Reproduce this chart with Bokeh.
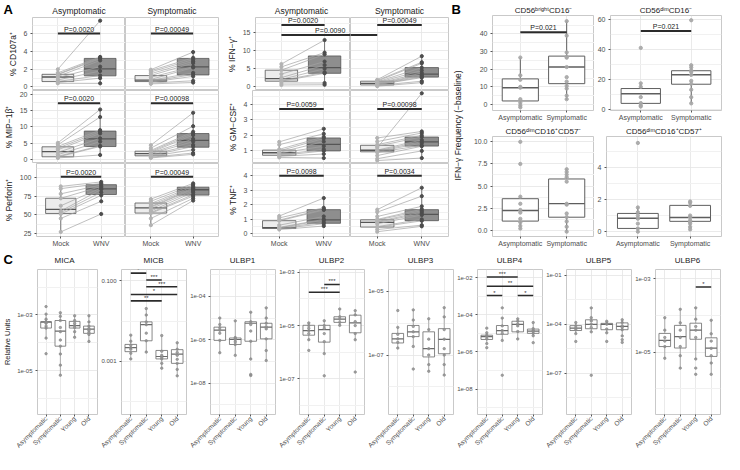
import math
from bokeh.plotting import figure
from bokeh.layouts import row, column
from bokeh.models import Range1d, FixedTicker, Label
from bokeh.core.properties import value
from bokeh.embed import file_html
from bokeh.resources import INLINE

FONT = "Liberation Sans"

# ================= Panel A : paired Mock -> WNV =================
A_CONDITIONS = ["Mock", "WNV"]
A_FACETS = ["Asymptomatic", "Symptomatic"]
A_YLABELS = ["% CD107a⁺", "% MIP−1β⁺", "% Perforin⁺", "% IFN−γ⁺", "% GM−CSF⁺", "% TNF⁺"]

# box statistics [lower whisker, Q1, median, Q3, upper whisker] for Mock, WNV
cd107a_box_asym = [[0.41, 0.61, 1.13, 1.43, 1.98], [0.41, 1.26, 2.05, 3.23, 3.40]]
cd107a_box_sym = [[0.34, 0.61, 0.78, 1.29, 1.98], [0.51, 1.36, 2.28, 3.23, 3.99]]
cd107a_mock_asym = [2.0, 1.6, 1.45, 1.4, 1.2, 1.05, 0.8, 0.62, 0.5, 0.41]
cd107a_wnv_asym = [7.5, 3.4, 3.3, 3.2, 3.0, 2.3, 1.8, 1.3, 1.0, 0.41]
cd107a_mock_sym = [1.95, 1.85, 1.7, 1.5, 1.3, 1.1, 0.85, 0.75, 0.65, 0.55, 0.45, 0.35]
cd107a_wnv_sym = [3.95, 3.3, 3.1, 2.9, 2.7, 2.3, 2.2, 1.6, 1.4, 1.2, 0.7, 0.5]
cd107a_p = ["P=0.0020", "P=0.00049"]
cd107a_p_y = 6.04

mip_box_asym = [[0.5, 0.85, 2.4, 3.9, 5.1], [1.4, 3.98, 6.34, 8.7, 15.3]]
mip_box_sym = [[0.5, 1.14, 1.79, 2.56, 4.43], [1.6, 3.78, 5.85, 7.95, 14.3]]
mip_mock_asym = [5.1, 4.5, 4.0, 3.5, 3.0, 2.2, 1.5, 1.0, 0.8, 0.5]
mip_wnv_asym = [15.3, 13.0, 9.0, 8.5, 8.0, 6.5, 5.5, 4.2, 4.0, 1.4]
mip_mock_sym = [4.4, 3.5, 2.8, 2.5, 2.2, 2.0, 1.8, 1.5, 1.2, 1.0, 0.7, 0.5]
mip_wnv_sym = [14.3, 10.2, 8.5, 8.0, 7.5, 6.3, 5.5, 4.5, 4.0, 3.0, 2.0, 1.6]
mip_p = ["P=0.0020", "P=0.00098"]
mip_p_y = 17.2

perf_box_asym = [[26.8, 51.7, 57.3, 72.1, 87.8], [67.9, 77.1, 84.8, 90.3, 94.5]]
perf_box_sym = [[36.1, 52.2, 59.3, 65.7, 71.3], [68.7, 76.3, 83.5, 86.9, 92.0]]
perf_mock_asym = [88, 85, 78, 72, 62, 55, 53, 51, 45, 27]
perf_wnv_asym = [94, 92, 90, 88, 86, 84, 80, 76, 68, 51]
perf_mock_sym = [71, 68, 65, 63, 61, 60, 58, 55, 53, 52, 45, 36]
perf_wnv_sym = [92, 90, 88, 86, 85, 84, 82, 80, 77, 75, 72, 69]
perf_p = ["P=0.0020", "P=0.00049"]
perf_p_y = 100.9

ifn_box_asym = [[0.45, 1.5, 2.2, 4.58, 6.35], [0.45, 3.7, 5.3, 8.55, 12.96]]
ifn_box_sym = [[0.0, 0.45, 0.87, 1.5, 1.93], [1.06, 2.65, 3.5, 5.3, 8.55]]
ifn_mock_asym = [6.3, 5.5, 4.6, 3.5, 2.5, 2.0, 1.7, 1.5, 1.0, 0.45]
ifn_wnv_asym = [13.0, 9.5, 9.0, 7.0, 6.0, 5.0, 4.0, 3.7, 1.0, 0.5]
ifn_mock_sym = [1.9, 1.7, 1.5, 1.3, 1.1, 0.9, 0.8, 0.7, 0.6, 0.5, 0.3, 0.1]
ifn_wnv_sym = [8.5, 6.8, 6.5, 5.3, 4.5, 3.8, 3.3, 3.0, 2.7, 2.5, 1.5, 1.1]
ifn_p = ["P=0.0020", "P=0.00049"]
ifn_p_y = 17.2
ifn_cross_p = "P=0.0090"
ifn_cross_p_y = 14.4

gm_box_asym = [[0.58, 0.72, 0.88, 1.05, 1.58], [0.54, 1.0, 1.42, 1.83, 2.42]]
gm_box_sym = [[0.38, 0.94, 1.04, 1.36, 1.83], [0.54, 1.31, 1.58, 1.89, 2.25]]
gm_mock_asym = [1.58, 1.4, 1.1, 1.0, 0.9, 0.85, 0.75, 0.7, 0.65, 0.58]
gm_wnv_asym = [2.42, 2.1, 1.9, 1.8, 1.6, 1.3, 1.1, 1.0, 0.8, 0.54]
gm_mock_sym = [1.2, 1.83, 1.6, 1.4, 1.3, 1.05, 1.0, 0.95, 0.9, 0.7, 0.5, 0.38]
gm_wnv_sym = [4.7, 2.25, 2.15, 2.0, 1.9, 1.7, 1.6, 1.5, 1.35, 1.3, 1.0, 0.54]
gm_p = ["P=0.0059", "P=0.00098"]
gm_p_y = 3.69

tnf_box_asym = [[0.3, 0.37, 0.43, 0.91, 1.23], [0.54, 0.73, 0.97, 1.67, 2.47]]
tnf_box_sym = [[0.15, 0.47, 0.8, 0.97, 1.67], [0.52, 0.91, 1.34, 1.67, 3.18]]
tnf_mock_asym = [1.23, 1.1, 0.95, 0.9, 0.6, 0.45, 0.42, 0.4, 0.35, 0.3]
tnf_wnv_asym = [2.47, 1.8, 1.7, 1.65, 1.2, 1.0, 0.95, 0.8, 0.7, 0.54]
tnf_mock_sym = [1.67, 1.5, 1.2, 1.0, 0.95, 0.85, 0.8, 0.7, 0.5, 0.45, 0.3, 0.15]
tnf_wnv_sym = [3.18, 2.6, 1.9, 1.7, 1.6, 1.5, 1.4, 1.3, 1.0, 0.9, 0.6, 0.52]
tnf_p = ["P=0.0098", "P=0.0034"]
tnf_p_y = 4.0

# ================= Panel B : IFN-gamma frequency (-baseline) =================
B_GROUPS = ["Asymptomatic", "Symptomatic"]
B_TITLES = ["CD56ᵇʳⁱᵍʰᵗCD16⁻", "CD56ᵈⁱᵐCD16⁻", "CD56ᵈⁱᵐCD16⁺CD57⁻", "CD56ᵈⁱᵐCD16⁺CD57⁺"]
B_YLABEL = "IFN−γ Frequency (−baseline)"
b1_box = [[-1.6, 2.0, 9.5, 14.5, 26.6], [2.5, 11.8, 21.2, 27.4, 47.2]]
b1_pts = [[26.6, 16.5, 14.0, 10.0, 9.5, 3.0, 1.0, -0.5, -1.6],
          [47.2, 39.0, 29.5, 27.0, 26.5, 21.2, 15.5, 13.0, 10.5, 9.0, 5.0, 3.0]]
b1_p = "P=0.021"
b1_p_y = 40.9
b2_box = [[1.7, 3.8, 10.3, 13.8, 17.3], [3.8, 16.7, 23.1, 25.8, 29.5]]
b2_pts = [[41.2, 17.3, 15.0, 8.0, 4.0, 2.5, 1.7],
          [59.8, 29.5, 28.0, 26.0, 25.0, 23.0, 19.0, 17.0, 13.0, 8.0, 3.8]]
b2_p = "P=0.021"
b2_p_y = 52.5
b3_box = [[0.18, 1.04, 2.23, 3.57, 3.82], [-0.15, 1.48, 3.01, 5.8, 6.98]]
b3_pts = [[10.0, 7.5, 3.8, 3.0, 2.3, 2.0, 1.3, 0.9, 0.5, 0.2],
          [6.9, 6.6, 6.3, 6.0, 5.5, 3.0, 2.9, 1.9, 1.5, 1.0, 0.4, -0.15]]
b4_box = [[0.0, 0.2, 0.83, 1.13, 1.53], [0.14, 0.64, 0.88, 1.63, 1.87]]
b4_pts = [[5.5, 1.5, 1.2, 1.0, 0.8, 0.5, 0.2, 0.0],
          [1.87, 1.8, 1.6, 1.0, 0.9, 0.7, 0.6, 0.5, 0.3, 0.14]]

# ================= Panel C : relative units (log10 of value) =================
C_GROUPS = ["Asymptomatic", "Symptomatic", "Young", "Old"]
C_GENES = ["MICA", "MICB", "ULBP1", "ULBP2", "ULBP3", "ULBP4", "ULBP5", "ULBP6"]
C_YLABEL = "Relative Units"
mica_box = [[-3.83, -3.47, -3.26, -3.24, -2.97], [-5.16, -4.12, -3.58, -3.2, -2.92],
            [-3.8, -3.47, -3.38, -3.23, -3.03], [-3.95, -3.66, -3.51, -3.4, -3.03]]
mica_pts = [[-2.7, -2.97, -3.15, -3.24, -3.26, -3.3, -3.4, -3.47, -3.83, -4.39],
            [-2.92, -3.05, -3.2, -3.45, -3.6, -3.9, -4.12, -4.4, -4.8, -5.16],
            [-3.03, -3.2, -3.3, -3.38, -3.45, -3.6, -3.8],
            [-3.03, -3.25, -3.4, -3.48, -3.55, -3.62, -3.7, -3.95]]
mica_sig = []
micb_box = [[-2.94, -2.76, -2.66, -2.58, -2.35], [-2.77, -2.49, -2.09, -2.02, -1.69],
            [-3.17, -2.94, -2.88, -2.73, -2.36], [-3.36, -3.05, -2.82, -2.71, -2.54]]
micb_pts = [[-2.35, -2.5, -2.6, -2.66, -2.7, -2.8, -2.94],
            [-1.69, -1.85, -2.02, -2.09, -2.3, -2.49, -2.77],
            [-2.36, -2.75, -2.85, -2.9, -2.94, -3.05, -3.17],
            [-2.54, -2.7, -2.78, -2.85, -2.95, -3.05, -3.2, -3.36]]
micb_sig = [(1, 2, "*", -0.81), (2, 3, "***", -0.98), (2, 4, "***", -1.15),
            (1, 4, "*", -1.34), (1, 3, "**", -1.5)]
ulbp1_box = [[-6.6, -6.03, -5.56, -5.42, -5.0], [-6.72, -6.22, -5.99, -5.92, -5.13],
             [-6.89, -6.07, -5.24, -5.17, -4.73], [-6.96, -5.96, -5.42, -5.24, -4.53]]
ulbp1_pts = [[-5.0, -5.3, -5.45, -5.56, -5.7, -6.03, -6.6],
             [-5.13, -5.9, -5.95, -6.0, -6.1, -6.22, -6.72],
             [-4.73, -5.17, -5.3, -5.6, -6.07, -6.89, -7.6, -7.65],
             [-4.53, -5.0, -5.24, -5.4, -5.5, -5.96, -6.5, -6.96]]
ulbp1_sig = []
ulbp2_box = [[-5.53, -5.36, -5.19, -4.99, -4.9], [-6.05, -5.62, -5.15, -4.99, -4.82],
             [-4.99, -4.88, -4.76, -4.67, -4.38], [-5.53, -5.27, -4.9, -4.61, -4.44]]
ulbp2_pts = [[-4.9, -5.0, -5.1, -5.19, -5.3, -5.53, -5.93],
             [-4.82, -5.0, -5.1, -5.3, -5.6, -6.05, -6.88],
             [-4.38, -4.67, -4.76, -4.88, -4.99],
             [-4.44, -4.6, -4.85, -5.0, -5.3, -5.53, -6.74]]
ulbp2_sig = [(1, 3, "***", -3.75), (2, 3, "***", -3.46)]
ulbp3_box = [[-6.78, -6.62, -6.49, -6.32, -6.13], [-6.73, -6.42, -6.27, -6.07, -5.58],
             [-7.51, -7.06, -6.8, -6.27, -5.86], [-7.63, -6.96, -6.51, -6.17, -5.51]]
ulbp3_pts = [[-5.6, -6.13, -6.35, -6.49, -6.6, -6.78],
             [-5.58, -5.9, -6.1, -6.27, -6.42, -6.73, -7.44],
             [-5.86, -6.2, -6.5, -6.8, -7.0, -7.3, -7.51],
             [-5.51, -5.8, -6.2, -6.5, -6.8, -7.0, -7.3, -7.63]]
ulbp3_sig = []
ulbp4_box = [[-5.55, -5.33, -5.18, -5.1, -4.97], [-5.38, -5.05, -4.85, -4.58, -4.18],
             [-5.3, -4.92, -4.52, -4.35, -4.22], [-5.13, -5.0, -4.88, -4.77, -4.42]]
ulbp4_pts = [[-4.72, -4.97, -5.1, -5.18, -5.3, -5.55, -5.77],
             [-3.63, -4.18, -4.6, -4.85, -5.0, -5.38, -7.25],
             [-4.22, -4.35, -4.5, -4.6, -4.9, -5.3],
             [-4.42, -4.75, -4.85, -4.9, -5.0, -5.13, -5.5]]
ulbp4_sig = [(1, 3, "***", -1.97), (1, 4, "**", -2.47), (1, 2, "*", -2.97), (3, 4, "*", -2.97)]
ulbp5_box = [[-4.58, -4.39, -4.24, -4.09, -3.9], [-4.47, -4.28, -4.01, -3.73, -3.0],
             [-4.53, -4.34, -4.01, -3.95, -3.82], [-4.72, -4.34, -4.14, -3.92, -3.73]]
ulbp5_pts = [[-3.9, -4.1, -4.24, -4.35, -4.58, -5.06],
             [-3.0, -3.6, -3.8, -4.0, -4.2, -4.47, -7.14],
             [-3.82, -3.95, -4.0, -4.3, -4.53, -5.06],
             [-3.73, -3.9, -4.1, -4.2, -4.34, -4.72, -4.95, -5.12]]
ulbp5_sig = []
ulbp6_box = [[-5.17, -4.85, -4.68, -4.49, -4.06], [-5.44, -4.89, -4.58, -4.27, -3.83],
             [-5.19, -4.65, -4.4, -4.21, -3.79], [-5.61, -5.12, -4.89, -4.61, -4.13]]
ulbp6_pts = [[-4.06, -4.4, -4.6, -4.7, -4.85, -5.17],
             [-3.83, -4.2, -4.4, -4.6, -4.85, -5.1, -5.44],
             [-3.79, -4.1, -4.3, -4.4, -4.6, -5.19, -5.44, -5.61],
             [-4.13, -4.5, -4.7, -4.9, -5.1, -5.3, -5.61]]
ulbp6_sig = [(3, 4, "*", -3.22)]

# ================= styling helpers =================
GRID = "#e4e4e4"
MINOR = "#f1f1f1"
BORDER = "#c9c9c9"
TICKTXT = "#4d4d4d"


def base_fig(width, height, xr, yr, bl, br, bt, bb, title=None, ylog=False,
             title_size="8.5px"):
    kw = dict(width=width, height=height, x_range=Range1d(*xr), y_range=Range1d(*yr),
              toolbar_location=None, output_backend="svg",
              min_border_left=bl, min_border_right=br,
              min_border_top=bt, min_border_bottom=bb)
    if ylog:
        kw["y_axis_type"] = "log"
    if title:
        kw["title"] = title
    p = figure(**kw)
    p.outline_line_color = BORDER
    p.outline_line_width = 1
    p.background_fill_color = "white"
    p.border_fill_color = "white"
    for ax in p.axis:
        ax.axis_line_color = None
        ax.major_tick_line_color = "#555555"
        ax.major_tick_out = 2
        ax.major_tick_in = 0
        ax.minor_tick_line_color = None
        ax.major_label_text_font = FONT
        ax.major_label_text_color = TICKTXT
        ax.major_label_text_font_size = "7px"
        ax.major_label_standoff = 1
        ax.axis_label_text_font = FONT
        ax.axis_label_text_font_style = "normal"
        ax.axis_label_text_font_size = "8.5px"
        ax.axis_label_text_color = "#222222"
        ax.axis_label_standoff = 3
    p.grid.grid_line_color = GRID
    p.grid.grid_line_width = 0.8
    p.grid.minor_grid_line_color = MINOR
    if title:
        p.title.text_font = FONT
        p.title.text_font_style = "normal"
        p.title.text_font_size = title_size
        p.title.text_color = "#1a1a1a"
        p.title.align = "center"
        p.title.standoff = 2
    return p


def text_strip(width, height, items):
    """A figure with no axes whose frame is the whole canvas, holding texts."""
    s = figure(width=width, height=height, toolbar_location=None, output_backend="svg",
               min_border=0, x_range=Range1d(0, 1), y_range=Range1d(0, 1))
    s.axis.visible = False
    s.grid.visible = False
    s.outline_line_color = None
    s.background_fill_color = "white"
    s.border_fill_color = "white"
    for it in items:
        s.add_layout(Label(x_units="screen", y_units="screen", text_font=FONT, **it))
    return s


def letter(x, y):
    return dict(x=x, y=y, text_font_size="13px", text_font_style="bold",
                text_baseline="middle", text_color="black")


def title_item(x, y, txt, size="8.5px"):
    return dict(x=x, y=y, text=txt, text_font_size=size, text_align="center",
                text_baseline="middle", text_color="#1a1a1a")


def set_y(p, ticks, minor, show, label=None, labels=None):
    tk = FixedTicker(ticks=ticks, minor_ticks=minor)
    p.yaxis.ticker = tk
    p.ygrid.ticker = tk
    if labels:
        p.yaxis.major_label_overrides = labels
    if label:
        p.yaxis.axis_label = label
    p.yaxis.visible = show


def set_x(p, ticks, names, show):
    tk = FixedTicker(ticks=ticks)
    p.xaxis.ticker = tk
    p.xgrid.ticker = tk
    p.xaxis.major_label_overrides = {t: n for t, n in zip(ticks, names)}
    p.xaxis.visible = show


def draw_boxes(p, xs, box, fills, line, width, tf=lambda v: v, lw=0.8, mlw=1.3, wcol=None):
    wcol = wcol or line
    lo = [tf(b[0]) for b in box]
    q1 = [tf(b[1]) for b in box]
    md = [tf(b[2]) for b in box]
    q3 = [tf(b[3]) for b in box]
    hi = [tf(b[4]) for b in box]
    h = width / 2
    p.segment(x0=xs, y0=lo, x1=xs, y1=q1, line_color=wcol, line_width=lw)
    p.segment(x0=xs, y0=q3, x1=xs, y1=hi, line_color=wcol, line_width=lw)
    p.quad(left=[x - h for x in xs], right=[x + h for x in xs], bottom=q1, top=q3,
           fill_color=fills, line_color=line, line_width=lw)
    p.segment(x0=[x - h for x in xs], y0=md, x1=[x + h for x in xs], y1=md,
              line_color=line, line_width=mlw)


def p_bar(p, x0, x1, y, txt, tx=None, size="7px"):
    p.segment(x0=[x0], y0=[y], x1=[x1], y1=[y], line_color="#2b2b2b", line_width=2)
    if txt:
        p.text(x=[tx if tx is not None else (x0 + x1) / 2], y=[y], text=[txt],
               text_align="center", text_baseline="bottom", text_font=value(FONT),
               text_font_size=size, text_color="#222222", y_offset=-1)


MOCK_FILL, WNV_FILL = "#ececec", "#8e8e8e"
BOX_LINE = "#555555"


def draw_paired(p, box, mock, wnv, ptxt, py):
    draw_boxes(p, [1, 2], box, [MOCK_FILL, WNV_FILL], BOX_LINE, 0.75)
    n = len(mock)
    p.segment(x0=[1] * n, y0=mock, x1=[2] * n, y1=wnv, line_color="#a3a3a3", line_width=0.7)
    p.scatter(x=[1] * n, y=mock, size=3.2, color="#b3b3b3")
    p.scatter(x=[2] * n, y=wnv, size=3.2, color="#4d4d4d")
    p_bar(p, 1, 2, py, ptxt)


# ================= Panel A build =================
A_STRIP_H = 17
A_ROW_H = [73, 73, 86]
A_BOT = [0, 0, 12]

A_SPECS_LEFT = [
    dict(yr=(-0.4, 7.86), ticks=[0, 2, 4, 6], minor=[1, 3, 5, 7],
         data=[(cd107a_box_asym, cd107a_mock_asym, cd107a_wnv_asym),
               (cd107a_box_sym, cd107a_mock_sym, cd107a_wnv_sym)], p=cd107a_p, py=cd107a_p_y),
    dict(yr=(-1.2, 21.1), ticks=[0, 5, 10, 15, 20], minor=[2.5, 7.5, 12.5, 17.5],
         data=[(mip_box_asym, mip_mock_asym, mip_wnv_asym),
               (mip_box_sym, mip_mock_sym, mip_wnv_sym)], p=mip_p, py=mip_p_y),
    dict(yr=(20.8, 118.7), ticks=[25, 50, 75, 100], minor=[37.5, 62.5, 87.5, 112.5],
         data=[(perf_box_asym, perf_mock_asym, perf_wnv_asym),
               (perf_box_sym, perf_mock_sym, perf_wnv_sym)], p=perf_p, py=perf_p_y),
]
A_SPECS_RIGHT = [
    dict(yr=(-1.1, 19.3), ticks=[0, 5, 10, 15], minor=[2.5, 7.5, 12.5, 17.5],
         data=[(ifn_box_asym, ifn_mock_asym, ifn_wnv_asym),
               (ifn_box_sym, ifn_mock_sym, ifn_wnv_sym)], p=ifn_p, py=ifn_p_y),
    dict(yr=(0.19, 4.88), ticks=[1, 2, 3, 4], minor=[0.5, 1.5, 2.5, 3.5, 4.5],
         data=[(gm_box_asym, gm_mock_asym, gm_wnv_asym),
               (gm_box_sym, gm_mock_sym, gm_wnv_sym)], p=gm_p, py=gm_p_y),
    dict(yr=(-0.18, 4.85), ticks=[0, 1, 2, 3, 4], minor=[0.5, 1.5, 2.5, 3.5, 4.5],
         data=[(tnf_box_asym, tnf_mock_asym, tnf_wnv_asym),
               (tnf_box_sym, tnf_mock_sym, tnf_wnv_sym)], p=tnf_p, py=tnf_p_y),
]


def build_A(specs, labels, left_border, frame_w, right_gap, with_letter, cross=False):
    w0 = left_border + frame_w
    w1 = frame_w + right_gap
    items = [title_item(left_border + frame_w / 2, A_STRIP_H - 10, A_FACETS[0]),
             title_item(w0 + frame_w / 2, A_STRIP_H - 10, A_FACETS[1])]
    if with_letter:
        items.append(dict(text="A", **letter(3, A_STRIP_H - 9)))
    rows = [text_strip(w0 + w1, A_STRIP_H, items)]
    for r, spec in enumerate(specs):
        pair = []
        for f in range(2):
            p = base_fig(w0 if f == 0 else w1, A_ROW_H[r], (0.4, 2.6), spec["yr"],
                         left_border if f == 0 else 0, 0 if f == 0 else right_gap,
                         0, A_BOT[r])
            set_y(p, spec["ticks"], spec["minor"], f == 0, label=labels[r] if f == 0 else None)
            set_x(p, [1, 2], A_CONDITIONS, r == 2)
            box, mock, wnv = spec["data"][f]
            draw_paired(p, box, mock, wnv, spec["p"][f], spec["py"])
            if cross and r == 0:
                if f == 0:
                    p_bar(p, 1, 3, ifn_cross_p_y, ifn_cross_p, tx=2.13)
                else:
                    p_bar(p, 0, 1, ifn_cross_p_y, None)
            pair.append(p)
        rows.append(row(*pair, spacing=0))
    return column(*rows, spacing=0)


A_left = build_A(A_SPECS_LEFT, A_YLABELS[:3], 32, 93, 5, True)
A_right = build_A(A_SPECS_RIGHT, A_YLABELS[3:], 29, 98, 2, False, cross=True)

# ================= Panel B build =================
strip_b = text_strip(14, 249, [
    dict(text="B", **letter(1, 240)),
    dict(x=7, y=124, angle=math.pi / 2, text=B_YLABEL, text_font_size="8.5px",
         text_color="#222222", text_align="center", text_baseline="middle"),
])

B_SPECS = [
    dict(w=130, h=123, bl=28, br=0, bt=15, bb=12, yr=(-3.4, 50.4), ticks=[0, 10, 20, 30, 40],
         minor=[5, 15, 25, 35, 45], box=b1_box, pts=b1_pts, p=b1_p, py=b1_p_y, lab=None),
    dict(w=130, h=123, bl=10, br=3, bt=15, bb=12, yr=(-1.0, 63.0), ticks=[0, 20, 40, 60],
         minor=[10, 30, 50], box=b2_box, pts=b2_pts, p=b2_p, py=b2_p_y, lab=None),
    dict(w=130, h=126, bl=28, br=0, bt=11, bb=11, yr=(-0.7, 10.6), ticks=[0, 2.5, 5, 7.5, 10],
         minor=[1.25, 3.75, 6.25, 8.75], box=b3_box, pts=b3_pts, p=None, py=None,
         lab={0: "0.0", 2.5: "2.5", 5: "5.0", 7.5: "7.5", 10: "10.0"}),
    dict(w=130, h=126, bl=10, br=3, bt=11, bb=11, yr=(-0.3, 5.9), ticks=[0, 2, 4],
         minor=[1, 3, 5], box=b4_box, pts=b4_pts, p=None, py=None, lab=None),
]
B_figs = []
for i, s in enumerate(B_SPECS):
    p = base_fig(s["w"], s["h"], (0.4, 2.6), s["yr"], s["bl"], s["br"], s["bt"], s["bb"],
                 title=B_TITLES[i], title_size="8px")
    set_y(p, s["ticks"], s["minor"], True, labels=s["lab"])
    set_x(p, [1, 2], B_GROUPS, True)
    draw_boxes(p, [1, 2], s["box"], ["white", "white"], "#5e5e5e", 0.78, lw=1.0, mlw=1.4)
    for g, pts in enumerate(s["pts"]):
        p.scatter(x=[g + 1] * len(pts), y=pts, size=3.3, color="#a6a6a6", alpha=0.9)
    if s["p"]:
        p_bar(p, 1, 2, s["py"], s["p"])
    B_figs.append(p)
B_block = column(row(B_figs[0], B_figs[1], spacing=0), row(B_figs[2], B_figs[3], spacing=0),
                 spacing=0)

# ================= Panel C build =================
C_SPECS = [
    (mica_box, mica_pts, mica_sig, (-6.57, -1.37), [-3, -5], ["1e-03", "1e-05"], [-2, -4, -6]),
    (micb_box, micb_pts, micb_sig, (-4.32, -0.72), [-1, -3], ["0.100", "0.001"], [-2, -4]),
    (ulbp1_box, ulbp1_pts, ulbp1_sig, (-9.45, -2.76), [-4, -6, -8],
     ["1e-04", "1e-06", "1e-08"], [-3, -5, -7, -9]),
    (ulbp2_box, ulbp2_pts, ulbp2_sig, (-8.33, -2.9), [-3, -5, -7],
     ["1e-03", "1e-05", "1e-07"], [-4, -6, -8]),
    (ulbp3_box, ulbp3_pts, ulbp3_sig, (-8.87, -4.31), [-5, -7], ["1e-05", "1e-07"], [-6, -8]),
    (ulbp4_box, ulbp4_pts, ulbp4_sig, (-9.36, -1.57), [-2, -4, -6, -8],
     ["1e-02", "1e-04", "1e-06", "1e-08"], [-3, -5, -7, -9]),
    (ulbp5_box, ulbp5_pts, ulbp5_sig, (-9.55, -0.64), [-1, -4, -7],
     ["1e-01", "1e-04", "1e-07"], [-2.5, -5.5, -8.5]),
    (ulbp6_box, ulbp6_pts, ulbp6_sig, (-6.71, -2.74), [-3, -5], ["1e-03", "1e-05"], [-4, -6]),
]
C_W = [98, 89, 89, 89, 89, 89, 89, 92]
C_BL = [31, 22, 22, 22, 22, 22, 22, 22]
C_BR = [1, 1, 1, 1, 1, 1, 1, 4]
C_STRIP_H = 18
C_FIG_H = 187


def tenpow(v):
    return 10.0 ** v


C_figs = []
for i, (box, pts, sig, yr, ticks, tlabels, minor) in enumerate(C_SPECS):
    p = base_fig(C_W[i], C_FIG_H, (0.4, 4.6), (10 ** yr[0], 10 ** yr[1]), C_BL[i], C_BR[i],
                 2, 36, ylog=True)
    tk_vals = [10.0 ** t for t in ticks]
    set_y(p, tk_vals, [10.0 ** m for m in minor], True,
          label=C_YLABEL if i == 0 else None,
          labels={tv: lab for tv, lab in zip(tk_vals, tlabels)})
    p.yaxis.major_label_text_font_size = "6px"
    p.yaxis.axis_label_text_font_size = "7.5px"
    p.yaxis.axis_label_standoff = 2
    set_x(p, [1, 2, 3, 4], C_GROUPS, True)
    p.xaxis.major_label_orientation = math.pi / 4
    p.xaxis.major_label_text_font_size = "6.5px"
    draw_boxes(p, [1, 2, 3, 4], box, ["white"] * 4, "#6a6a6a", 0.75, tf=tenpow,
               lw=0.8, mlw=1.2, wcol="#9a9a9a")
    for g, pp in enumerate(pts):
        p.scatter(x=[g + 1] * len(pp), y=[tenpow(v) for v in pp], size=2.4,
                  color="#8c8c8c", alpha=0.8)
    for (g1, g2, lab, yv) in sig:
        y = tenpow(yv)
        p.segment(x0=[g1], y0=[y], x1=[g2], y1=[y], line_color="#2b2b2b", line_width=1.6)
        p.text(x=[(g1 + g2) / 2], y=[y], text=[lab], text_align="center",
               text_baseline="bottom", text_font=value(FONT), text_font_size="6px",
               text_color="#333333", y_offset=0)
    C_figs.append(p)

c_items = [dict(text="C", **letter(3, C_STRIP_H - 10))]
start = 0
for i, g in enumerate(C_GENES):
    frame_w = C_W[i] - C_BL[i] - C_BR[i]
    c_items.append(title_item(start + C_BL[i] + frame_w / 2, C_STRIP_H - 11, g, "8px"))
    start += C_W[i]
strip_c = text_strip(sum(C_W), C_STRIP_H, c_items)

top = row(A_left, A_right, strip_b, B_block, spacing=0)
bottom = column(strip_c, row(*C_figs, spacing=0), spacing=0)
layout = column(top, bottom, spacing=0)

open("out.html", "w").write(file_html(layout, INLINE))
